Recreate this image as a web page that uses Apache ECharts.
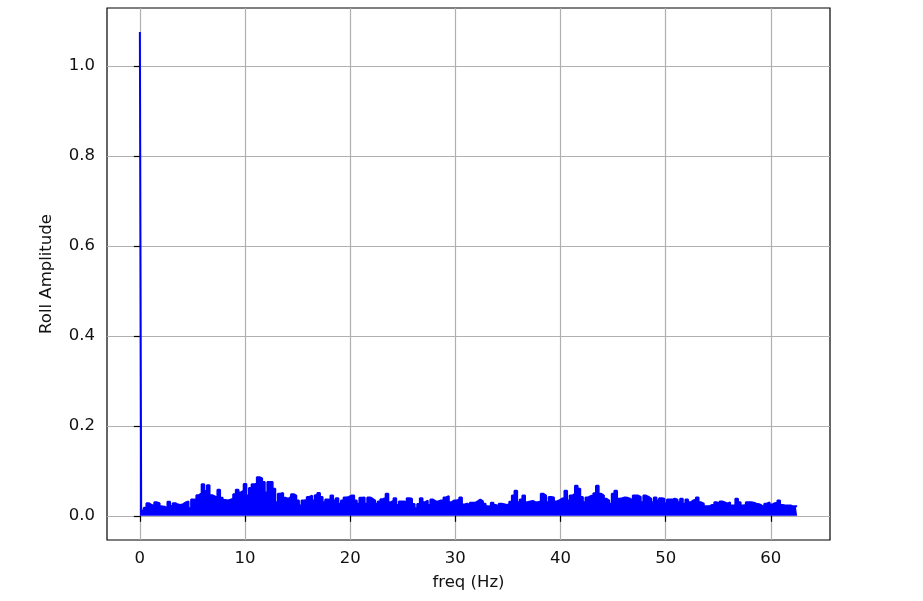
<!DOCTYPE html>
<html>
<head>
<meta charset="utf-8">
<script src="https://cdn.jsdelivr.net/npm/echarts@6/dist/echarts.min.js"></script>
<style>html,body{margin:0;padding:0;background:#fff}#c{width:923px;height:601px}</style>
</head>
<body>
<div id="c"></div>
<script>
// Frequency bin spacing (Hz) and amplitude values per bin (0 .. 62.5 Hz)
const binHz = 0.25;
const amplitude = [
  1.076,0.012,0.018,0.028,0.024,0.022,0.030,0.028,0.021,0.020,
  0.017,0.031,0.022,0.028,0.025,0.024,0.026,0.030,0.032,0.017,
  0.036,0.037,0.046,0.050,0.070,0.055,0.068,0.046,0.043,0.040,
  0.058,0.040,0.035,0.034,0.036,0.038,0.048,0.058,0.052,0.056,
  0.071,0.045,0.062,0.070,0.072,0.086,0.083,0.075,0.052,0.075,
  0.075,0.060,0.030,0.049,0.051,0.040,0.038,0.042,0.048,0.045,
  0.034,0.023,0.034,0.035,0.042,0.045,0.034,0.046,0.051,0.042,
  0.030,0.036,0.037,0.045,0.034,0.039,0.027,0.034,0.041,0.042,
  0.045,0.045,0.034,0.027,0.040,0.041,0.027,0.041,0.038,0.034,
  0.027,0.032,0.037,0.040,0.049,0.030,0.034,0.039,0.024,0.032,
  0.032,0.030,0.039,0.038,0.026,0.017,0.026,0.039,0.030,0.034,
  0.024,0.036,0.032,0.032,0.034,0.034,0.041,0.044,0.030,0.034,
  0.034,0.036,0.041,0.025,0.027,0.024,0.029,0.029,0.032,0.036,
  0.032,0.027,0.021,0.022,0.029,0.024,0.021,0.027,0.026,0.024,
  0.025,0.031,0.045,0.056,0.030,0.036,0.045,0.030,0.032,0.033,
  0.030,0.030,0.032,0.049,0.045,0.030,0.042,0.041,0.032,0.034,
  0.038,0.040,0.056,0.034,0.045,0.049,0.067,0.060,0.042,0.030,
  0.041,0.044,0.045,0.050,0.067,0.049,0.045,0.038,0.034,0.027,
  0.049,0.056,0.038,0.039,0.041,0.040,0.038,0.034,0.045,0.045,
  0.042,0.030,0.045,0.042,0.038,0.030,0.041,0.034,0.039,0.038,
  0.028,0.036,0.036,0.038,0.036,0.030,0.038,0.027,0.036,0.030,
  0.034,0.036,0.041,0.030,0.027,0.021,0.021,0.024,0.024,0.030,
  0.027,0.032,0.030,0.027,0.030,0.023,0.023,0.038,0.030,0.023,
  0.024,0.030,0.030,0.029,0.027,0.026,0.023,0.019,0.027,0.030,
  0.025,0.028,0.029,0.034,0.024,0.023,0.023,0.023,0.021,0.021,
  0.021
];
const xTicks = [0, 10, 20, 30, 40, 50, 60];
const yTicks = [0.0, 0.2, 0.4, 0.6, 0.8, 1.0];
const xTitle = 'freq (Hz)';
const yTitle = 'Roll Amplitude';

const seriesData = amplitude.map((v, i) => [i * binHz, v]);

const font = '"DejaVu Sans", sans-serif';
const chart = echarts.init(document.getElementById('c'), null, {renderer: 'canvas'});
chart.setOption({
  animation: false,
  grid: {left: 107, right: 93, top: 8, bottom: 61, show: true, borderColor: '#000', borderWidth: 1.2, backgroundColor: 'transparent'},
  xAxis: {
    type: 'value', min: -3.125, max: 65.625,
    name: xTitle, nameLocation: 'middle', nameGap: 34,
    nameTextStyle: {fontFamily: font, fontSize: 16.5, color: '#111'},
    axisLine: {show: false},
    axisTick: {show: true, customValues: xTicks, length: 6, lineStyle: {color: '#000', width: 1.2}},
    axisLabel: {customValues: xTicks, fontFamily: font, fontSize: 16.5, color: '#111', margin: 10},
    splitLine: {show: true, lineStyle: {color: '#b0b0b0', width: 1.2}}
  },
  yAxis: {
    type: 'value', min: -0.0538, max: 1.1294,
    name: yTitle, nameLocation: 'middle', nameGap: 52,
    nameTextStyle: {fontFamily: font, fontSize: 16.5, color: '#111'},
    axisLine: {show: false},
    axisTick: {show: true, customValues: yTicks, length: 6, lineStyle: {color: '#000', width: 1.2}},
    axisLabel: {customValues: yTicks, fontFamily: font, fontSize: 16.5, color: '#111', margin: 12,
      formatter: v => v.toFixed(1)},
    splitLine: {show: true, lineStyle: {color: '#b0b0b0', width: 1.2}}
  },
  series: [{
    type: 'line',
    data: seriesData,
    step: 'middle',
    showSymbol: false,
    lineStyle: {color: '#0000ff', width: 2},
    areaStyle: {color: '#0000ff', opacity: 1},
    itemStyle: {color: '#0000ff'},
    silent: true
  }]
});
</script>
</body>
</html>
